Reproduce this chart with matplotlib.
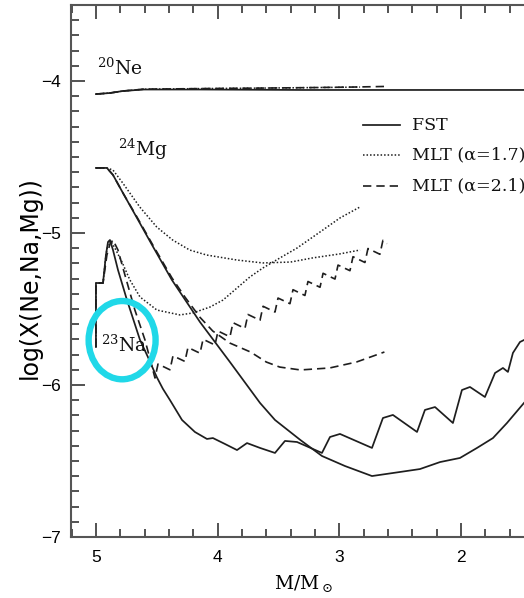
import matplotlib
matplotlib.use("Agg")
import matplotlib.pyplot as plt
from matplotlib.patches import Ellipse
from matplotlib.lines import Line2D
from matplotlib.ticker import MultipleLocator, FixedLocator

plt.rcParams["mathtext.fontset"] = "dejavuserif"

# ---- surface abundances vs. current stellar mass ----
# 20Ne
ne_fst_m = [5.0, 4.885, 4.78, 4.61, 4.15, 3.3, 2.5, 1.45]
ne_fst_x = [-4.086, -4.079, -4.066, -4.056, -4.056, -4.059, -4.059, -4.059]
ne_mlt17_m = [5.0, 4.885, 4.78, 4.61, 4.15, 3.7, 3.3, 2.83]
ne_mlt17_x = [-4.086, -4.079, -4.066, -4.054, -4.050, -4.047, -4.044, -4.040]
ne_mlt21_m = [5.0, 4.885, 4.78, 4.61, 4.15, 3.7, 3.3, 2.9, 2.63]
ne_mlt21_x = [-4.086, -4.079, -4.066, -4.054, -4.050, -4.047, -4.044, -4.040, -4.036]

# 24Mg
mg_fst_m = [5.0, 4.91, 4.86, 4.778, 4.663, 4.532, 4.376, 4.145, 3.899, 3.652, 3.529,
            3.32, 3.143, 2.954, 2.732, 2.50, 2.338, 2.173, 2.009, 1.869, 1.738, 1.623,
            1.483]
mg_fst_x = [-4.572, -4.572, -4.618, -4.737, -4.901, -5.089, -5.309, -5.586, -5.849,
            -6.118, -6.23, -6.362, -6.467, -6.533, -6.599, -6.572, -6.553, -6.507,
            -6.480, -6.414, -6.349, -6.250, -6.118]
mg_mlt17_m = [5.0, 4.91, 4.86, 4.78, 4.64, 4.50, 4.37, 4.23, 4.09, 3.84, 3.63, 3.40,
              3.22, 3.00, 2.83]
mg_mlt17_x = [-4.572, -4.572, -4.586, -4.671, -4.829, -4.961, -5.046, -5.112, -5.145,
              -5.178, -5.197, -5.191, -5.164, -5.138, -5.112]
mg_mlt21_m = [5.0, 4.91, 4.86, 4.778, 4.663, 4.532, 4.376, 4.27, 4.145, 4.04, 3.90,
              3.73, 3.60, 3.49, 3.32, 3.08, 2.86, 2.63]
mg_mlt21_x = [-4.572, -4.572, -4.618, -4.737, -4.895, -5.080, -5.295, -5.42, -5.555,
              -5.645, -5.724, -5.783, -5.849, -5.882, -5.901, -5.888, -5.849, -5.783]

# 23Na
na_fst_m = [5.0, 5.0, 4.942, 4.918, 4.901, 4.885, 4.86, 4.819, 4.745, 4.638, 4.573,
            4.530, 4.499, 4.450, 4.392, 4.293, 4.187, 4.088, 4.039, 3.94, 3.841, 3.759,
            3.652, 3.529, 3.447, 3.348, 3.143, 3.077, 2.995, 2.732, 2.642, 2.56, 2.362,
            2.297, 2.214, 2.067, 1.993, 1.927, 1.804, 1.721, 1.656, 1.615, 1.574, 1.516,
            1.483]
na_fst_x = [-5.75, -5.329, -5.329, -5.145, -5.059, -5.046, -5.112, -5.243, -5.441,
            -5.704, -5.816, -5.895, -5.950, -6.025, -6.099, -6.23, -6.309, -6.355,
            -6.349, -6.388, -6.428, -6.382, -6.414, -6.447, -6.368, -6.375, -6.447,
            -6.342, -6.322, -6.414, -6.217, -6.197, -6.309, -6.164, -6.145, -6.25,
            -6.033, -6.013, -6.079, -5.921, -5.888, -5.914, -5.789, -5.717, -5.704]
na_mlt17_m = [5.0, 5.0, 4.942, 4.918, 4.901, 4.877, 4.836, 4.786, 4.721, 4.638, 4.499,
              4.31, 4.203, 4.063, 3.956, 3.735, 3.628, 3.488, 3.348, 3.135, 2.995, 2.831]
na_mlt17_x = [-5.75, -5.329, -5.329, -5.145, -5.072, -5.053, -5.112, -5.191, -5.309,
              -5.421, -5.507, -5.539, -5.526, -5.487, -5.441, -5.289, -5.23, -5.164,
              -5.099, -4.980, -4.901, -4.829]
na_mlt21_m = [5.0, 5.0, 4.942, 4.91, 4.885, 4.86, 4.819, 4.762, 4.68, 4.597,
              4.515, 4.49, 4.392, 4.367, 4.269, 4.244, 4.145, 4.12, 4.022, 3.997,
              3.899, 3.874, 3.776, 3.751, 3.652, 3.627, 3.529, 3.504, 3.406, 3.381,
              3.283, 3.258, 3.159, 3.134, 3.036, 3.011, 2.913, 2.888, 2.790, 2.765,
              2.667, 2.642, 2.609]
na_mlt21_x = [-5.75, -5.329, -5.329, -5.145, -5.072, -5.046, -5.112, -5.276, -5.507,
              -5.704, -5.954, -5.862, -5.900, -5.808, -5.845, -5.753, -5.791, -5.699,
              -5.737, -5.645, -5.683, -5.590, -5.628, -5.536, -5.574, -5.482, -5.520,
              -5.428, -5.465, -5.373, -5.411, -5.319, -5.357, -5.265, -5.303, -5.211,
              -5.248, -5.156, -5.194, -5.102, -5.140, -5.048, -5.070]

x_major = [5, 4, 3, 2]
y_major = [-7, -6, -5, -4]
x_ticklabels = ["5", "4", "3", "2"]
y_ticklabels = ["\u22127", "\u22126", "\u22125", "\u22124"]

legend_labels = ["FST", "MLT (\u03b1=1.7)", "MLT (\u03b1=2.1)"]

# ---- figure ----
W, H = 524, 598
fig = plt.figure(figsize=(W / 100, H / 100), dpi=100)
ax = fig.add_axes([71 / W, 61 / H, (W - 71) / W, 532 / H])
ax.set_xlim(5.205, 1.483)
ax.set_ylim(-7.0, -3.5)

ink = "#1e1e1e"
solid = dict(color=ink, lw=1.25, ls="-", solid_joinstyle="round")
dotted = dict(color=ink, lw=1.1, ls=(0, (1.0, 1.3)))
dashed = dict(color=ink, lw=1.2, ls=(0, (5.0, 3.0)))

ax.plot(ne_fst_m, ne_fst_x, **solid)
ax.plot(ne_mlt17_m, ne_mlt17_x, **dotted)
ax.plot(ne_mlt21_m, ne_mlt21_x, **dashed)

ax.plot(mg_fst_m, mg_fst_x, **solid)
ax.plot(mg_mlt17_m, mg_mlt17_x, **dotted)
ax.plot(mg_mlt21_m, mg_mlt21_x, **dashed)

ax.plot(na_fst_m, na_fst_x, **solid)
ax.plot(na_mlt17_m, na_mlt17_x, **dotted)
ax.plot(na_mlt21_m, na_mlt21_x, **dashed)

# species labels
lab = dict(fontsize=13.5, family="DejaVu Serif", color="#111")
ax.text(4.995, -3.915, r"$^{20}$Ne", ha="left", va="center", **lab)
ax.text(4.82, -4.45, r"$^{24}$Mg", ha="left", va="center", **lab)
ax.text(4.955, -5.735, r"$^{23}$Na", ha="left", va="center", **lab)

# highlight ring around the sodium label
ax.add_patch(Ellipse((4.785, -5.705), 0.55, 0.515, fill=False,
                     edgecolor="#20d8e8", lw=4.6, zorder=5))

# axes styling
for s in ("left", "bottom", "top"):
    ax.spines[s].set_color("#555555")
    ax.spines[s].set_linewidth(1.5)
ax.spines["right"].set_visible(False)

ax.xaxis.set_major_locator(FixedLocator(x_major))
ax.yaxis.set_major_locator(FixedLocator(y_major))
ax.xaxis.set_minor_locator(MultipleLocator(0.2))
ax.yaxis.set_minor_locator(MultipleLocator(0.1))
ax.set_xticklabels(x_ticklabels)
ax.set_yticklabels(y_ticklabels)
ax.tick_params(which="both", direction="in", top=True, right=False,
               color="#444444", width=1.3, labelsize=12.5)
ax.tick_params(which="major", length=10)
ax.tick_params(which="minor", length=5.5)
ax.tick_params(axis="x", pad=9)
ax.tick_params(axis="y", pad=7)
for t in ax.get_xticklabels() + ax.get_yticklabels():
    t.set_family("Liberation Sans")

fig.text(30 / W, 1 - 278 / H, "log(X(Ne,Na,Mg))", rotation=90, ha="center",
         va="center", fontsize=17, family="DejaVu Sans")
fig.text(304 / W, 1 - 583 / H, r"M/M$_\odot$", ha="center", va="center",
         fontsize=13.5, family="DejaVu Serif")

# legend drawn in figure pixels
styles = [solid, dotted, dashed]
rows = [125, 155, 186]
for st, lbl, yy in zip(styles, legend_labels, rows):
    fy = 1 - yy / H
    fig.add_artist(Line2D([363 / W, 400 / W], [fy, fy], transform=fig.transFigure, **st))
    fig.text(412 / W, fy, lbl, ha="left", va="center", fontsize=12.6,
             family="DejaVu Serif", color="#111")

fig.savefig("out.png", dpi=100)
